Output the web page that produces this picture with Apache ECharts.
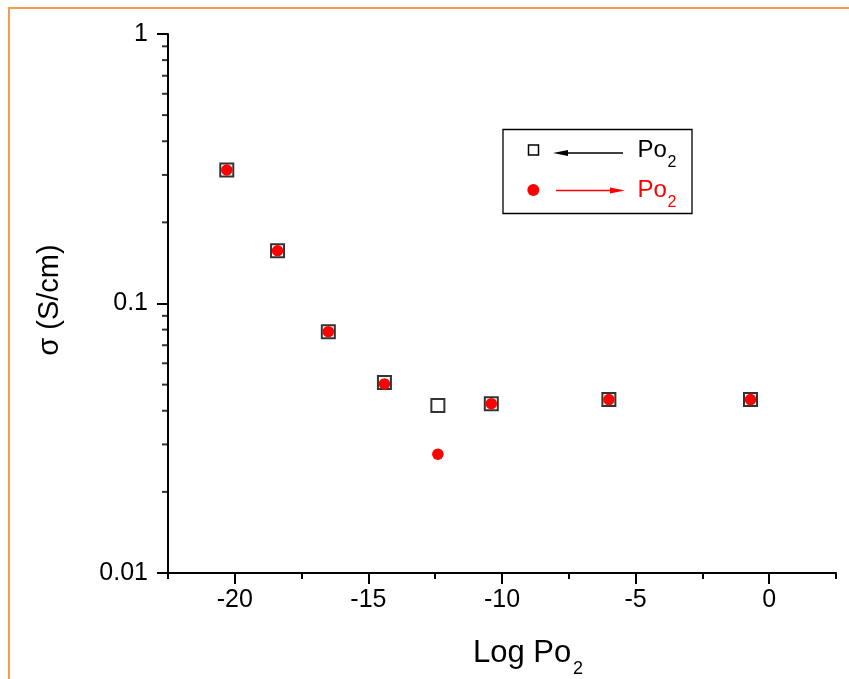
<!DOCTYPE html>
<html>
<head>
<meta charset="utf-8">
<script src="https://cdn.jsdelivr.net/npm/echarts@6/dist/echarts.min.js"></script>
<style>
  html, body { margin: 0; padding: 0; background: #ffffff; }
  #chart { width: 849px; height: 679px; }
</style>
</head>
<body>
<div id="chart"></div>
<script>
// Conductivity vs. oxygen partial pressure, measured on decreasing and increasing Po2
const logPo2 = [-20.3, -18.4, -16.5, -14.4, -12.4, -10.4, -6.0, -0.7];
const sigmaDecreasing = [0.313, 0.157, 0.0786, 0.0509, 0.0418, 0.0425, 0.0440, 0.0440];
const sigmaIncreasing = [0.313, 0.157, 0.0786, 0.0503, 0.0276, 0.0425, 0.0440, 0.0440];

// Axis ticks
const xMajorTicks = [-20, -15, -10, -5, 0];
const xRange = [-22.5, 2.5];
const xMinorStep = 2.5;
const yRange = [0.01, 1];
const yMinorTicks = [0.02, 0.03, 0.04, 0.05, 0.06, 0.07, 0.08, 0.09,
                     0.2, 0.3, 0.4, 0.5, 0.6, 0.7, 0.8, 0.9];

const FONT = '"Liberation Sans", Arial, Helvetica, sans-serif';
const ORANGE = '#F39B4E';

const pairs = (xs, ys) => xs.map((x, i) => [x, ys[i]]);

const chart = echarts.init(document.getElementById('chart'), null, { renderer: 'canvas' });

const option = {
  backgroundColor: '#ffffff',
  animation: false,
  grid: { left: 168, right: 13, top: 34, bottom: 106, containLabel: false },
  xAxis: [
    {
      type: 'value',
      min: xRange[0], max: xRange[1], interval: xMinorStep,
      position: 'bottom',
      axisLine: { show: true, onZero: false, lineStyle: { color: '#000', width: 2 } },
      axisTick: { show: true, inside: false, length: 11, customValues: xMajorTicks, lineStyle: { color: '#000', width: 2 } },
      axisLabel: { show: true, customValues: xMajorTicks, margin: 15, color: '#000', fontSize: 25, fontFamily: FONT },
      splitLine: { show: false }
    },
    {
      type: 'value',
      min: xRange[0], max: xRange[1], interval: xMinorStep,
      position: 'bottom',
      axisLine: { show: false },
      axisTick: { show: true, inside: false, length: 6, lineStyle: { color: '#000', width: 2 } },
      axisLabel: { show: false },
      splitLine: { show: false }
    }
  ],
  yAxis: {
    type: 'log', logBase: 10,
    min: yRange[0], max: yRange[1],
    axisLine: { show: true, onZero: false, lineStyle: { color: '#000', width: 2 } },
    axisTick: { show: true, inside: false, length: 11, lineStyle: { color: '#000', width: 2 } },
    axisLabel: { margin: 20, color: '#000', fontSize: 25, fontFamily: FONT },
    splitLine: { show: false },
    minorSplitLine: { show: false }
  },
  series: [
    {
      // minor ticks of the logarithmic σ axis (2..9 per decade), hung on the axis line
      name: 'yMinorTicks',
      type: 'scatter',
      xAxisIndex: 0,
      silent: true,
      clip: false,
      symbol: 'rect',
      symbolSize: [6, 2],
      symbolOffset: [-3, 0],
      itemStyle: { color: '#000000' },
      data: yMinorTicks.map(v => [xRange[0], v]),
      z: 1
    },
    {
      name: 'decreasing',
      type: 'scatter',
      xAxisIndex: 0,
      symbol: 'rect',
      symbolSize: 13,
      itemStyle: { color: '#ffffff', borderColor: '#000000', borderWidth: 2 },
      data: pairs(logPo2, sigmaDecreasing),
      z: 3
    },
    {
      name: 'increasing',
      type: 'scatter',
      xAxisIndex: 0,
      symbol: 'circle',
      symbolSize: 11.5,
      itemStyle: { color: '#ff0000', opacity: 1 },
      data: pairs(logPo2, sigmaIncreasing),
      z: 4
    }
  ],
  graphic: [
    // page frame
    {
      type: 'polyline', silent: true, z: 0,
      shape: { points: [[849, 8], [9, 8], [9, 679]] },
      style: { stroke: ORANGE, lineWidth: 2, fill: null }
    },
    // axis titles
    {
      type: 'text', x: 50, y: 300, rotation: Math.PI / 2,
      style: { text: 'σ (S/cm)', fontSize: 29, fontFamily: FONT, fill: '#000', align: 'center', verticalAlign: 'middle' }
    },
    {
      type: 'text', x: 473, y: 653.5,
      style: { text: 'Log Po', fontSize: 31, fontFamily: FONT, fill: '#000', align: 'left', verticalAlign: 'middle' }
    },
    {
      type: 'text', x: 573, y: 669.5,
      style: { text: '2', fontSize: 18, fontFamily: FONT, fill: '#000', align: 'left', verticalAlign: 'middle' }
    },
    // legend
    {
      type: 'group', z: 10,
      children: [
        { type: 'rect', shape: { x: 503, y: 129.5, width: 189, height: 84 }, style: { fill: '#fff', stroke: '#000', lineWidth: 1.3 } },
        { type: 'rect', shape: { x: 528.5, y: 145, width: 10, height: 10 }, style: { fill: '#fff', stroke: '#000', lineWidth: 1.5 } },
        { type: 'line', shape: { x1: 566, y1: 153, x2: 623, y2: 153 }, style: { stroke: '#000', lineWidth: 1.5 } },
        { type: 'polygon', shape: { points: [[553, 153], [568, 150], [568, 156]] }, style: { fill: '#000' } },
        { type: 'text', x: 637.5, y: 150.5, style: { text: 'Po', fontSize: 24, fontFamily: FONT, fill: '#000', align: 'left', verticalAlign: 'middle' } },
        { type: 'text', x: 667.5, y: 163, style: { text: '2', fontSize: 16, fontFamily: FONT, fill: '#000', align: 'left', verticalAlign: 'middle' } },
        { type: 'circle', shape: { cx: 533.3, cy: 190, r: 6 }, style: { fill: '#ff0000' } },
        { type: 'line', shape: { x1: 556, y1: 190.5, x2: 612, y2: 190.5 }, style: { stroke: '#ff0000', lineWidth: 1.5 } },
        { type: 'polygon', shape: { points: [[625, 190.5], [610, 187.5], [610, 193.5]] }, style: { fill: '#ff0000' } },
        { type: 'text', x: 637.5, y: 190.2, style: { text: 'Po', fontSize: 24, fontFamily: FONT, fill: '#ff0000', align: 'left', verticalAlign: 'middle' } },
        { type: 'text', x: 667.5, y: 203, style: { text: '2', fontSize: 16, fontFamily: FONT, fill: '#ff0000', align: 'left', verticalAlign: 'middle' } }
      ]
    }
  ]
};

chart.setOption(option);
</script>
</body>
</html>
